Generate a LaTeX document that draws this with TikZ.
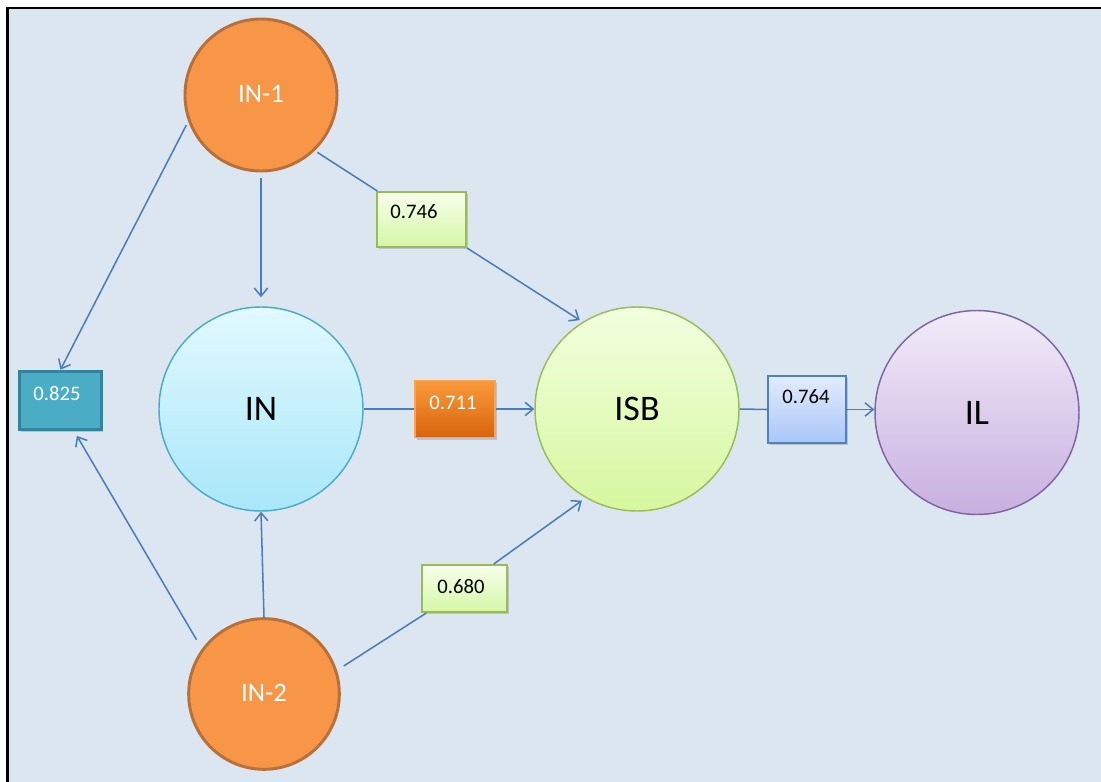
\documentclass[tikz,border=0pt]{standalone}
\usepackage{fontspec}
\setmainfont{Carlito}
\usetikzlibrary{arrows.meta,shadows}
\definecolor{bg}{HTML}{DCE6F1}
\definecolor{arrowc}{HTML}{4A7EBB}
\definecolor{orfill}{HTML}{F79646}
\definecolor{ordraw}{HTML}{B8703A}
\definecolor{intop}{HTML}{E2F9FF}
\definecolor{inbot}{HTML}{A8E7F9}
\definecolor{indraw}{HTML}{4BACC6}
\definecolor{isbtop}{HTML}{F2FFDF}
\definecolor{isbbot}{HTML}{D6F79E}
\definecolor{isbdraw}{HTML}{9BBB59}
\definecolor{iltop}{HTML}{F2ECF9}
\definecolor{ilbot}{HTML}{C8AFE0}
\definecolor{ildraw}{HTML}{8064A2}
\definecolor{tealfill}{HTML}{4BACC6}
\definecolor{tealdraw}{HTML}{31849B}
\definecolor{grtop}{HTML}{F7FFEA}
\definecolor{grbot}{HTML}{D5F7A6}
\definecolor{ortop}{HTML}{FA9A3A}
\definecolor{orbot}{HTML}{D8640E}
\definecolor{ortdraw}{HTML}{F9A457}
\definecolor{bltop}{HTML}{E2ECFC}
\definecolor{blbot}{HTML}{A9C7F8}
\definecolor{bldraw}{HTML}{4F81BD}
\begin{document}
\begin{tikzpicture}[x=0.75pt,y=-0.75pt,
  circ/.style={circle,inner sep=0pt},
  bigtxt/.style={font=\fontsize{27}{32}\selectfont},
  smalltxt/.style={font=\fontsize{20}{24}\selectfont,text=white},
  numtxt/.style={font=\fontsize{15.5}{18}\selectfont,inner sep=0pt},
  boxn/.style={rectangle,inner sep=0pt,drop shadow={shadow xshift=1.2pt,shadow yshift=-1.5pt,opacity=0.35}},
  conn/.style={draw=arrowc,line width=1.15pt},
  arr/.style={conn,-{Straight Barb[length=6pt,width=10pt]}}]
\useasboundingbox (0,0) rectangle (1101,782);
\fill[bg] (8,9) rectangle (1101,782);
\draw[line width=2.2pt] (7.5,782) -- (7.5,8) -- (1101,8);

% circles
\node[circ,fill=orfill,draw=ordraw,line width=2.2pt,minimum size=114pt,smalltxt] (in1) at (261,95) {\raisebox{1.2pt}{IN-1}};
\node[circ,top color=intop,bottom color=inbot,draw=indraw,line width=1.1pt,minimum size=153pt,bigtxt] (in) at (261,409) {\raisebox{-2pt}{IN}};
\node[circ,top color=isbtop,bottom color=isbbot,draw=isbdraw,line width=1.1pt,minimum size=153pt,bigtxt] (isb) at (637,409) {\raisebox{-1.5pt}{ISB}};
\node[circ,top color=iltop,bottom color=ilbot,draw=ildraw,line width=1.1pt,minimum size=153pt,bigtxt] (il) at (977,412.5) {\raisebox{-1pt}{IL}};
\node[circ,fill=orfill,draw=ordraw,line width=2.2pt,minimum size=113pt,smalltxt] (in2) at (264,694) {\raisebox{2pt}{IN-2}};

% boxes
\node[boxn,fill=tealfill,draw=tealdraw,line width=2.2pt,minimum width=62pt,minimum height=44pt,drop shadow={opacity=0}] (b825) at (60.5,400.5) {};
\node[boxn,top color=grtop,bottom color=grbot,draw=isbdraw,line width=1.5pt,minimum width=66.75pt,minimum height=41.25pt] (b746) at (421.5,219.5) {};
\node[boxn,top color=ortop,bottom color=orbot,draw=ortdraw,line width=1.1pt,minimum width=60pt,minimum height=42.75pt] (b711) at (455,409) {};
\node[boxn,top color=bltop,bottom color=blbot,draw=bldraw,line width=1.5pt,minimum width=58.5pt,minimum height=50.25pt] (b764) at (807,409.5) {};
\node[boxn,top color=grtop,bottom color=grbot,draw=isbdraw,line width=1.5pt,minimum width=63.75pt,minimum height=35.25pt] (b680) at (464.5,588.5) {};

% box labels
\node[numtxt,text=white] (t825) at (57,394) {0.825};
\node[numtxt] (t746) at (414,212) {0.746};
\node[numtxt,text=white] (t711) at (453,403) {0.711};
\node[numtxt] (t764) at (806,397) {0.764};
\node[numtxt] (t680) at (461,587) {0.680};

% connectors
\begin{scope}
\draw[arr,shorten <=3pt] (in1.200) -- (b825.north);
\draw[arr,shorten <=4.5pt,shorten >=6.75pt] (in1.south) -- (in.north);
\draw[conn,shorten <=2.25pt] (in1.-46) -- (b746);
\draw[arr,shorten >=2.5pt] (b746.south east) -- (isb.122);
\draw[conn] (in.east) -- (b711.west);
\draw[arr] (b711.east) -- (isb.west);
\draw[conn] (isb.east) -- (b764.west);
\draw[arr] (b764.east) -- (b764.east -| il.west);
\draw[arr] (in2.north) -- (in.south);
\draw[arr,shorten <=8pt,shorten >=4pt] (in2.144) -- (b825.-66);
\draw[conn,shorten <=6pt] (in2.18) -- (b680);
\draw[arr,shorten >=3.5pt] (b680.40) -- (isb.240);
\end{scope}
\end{tikzpicture}
\end{document}
